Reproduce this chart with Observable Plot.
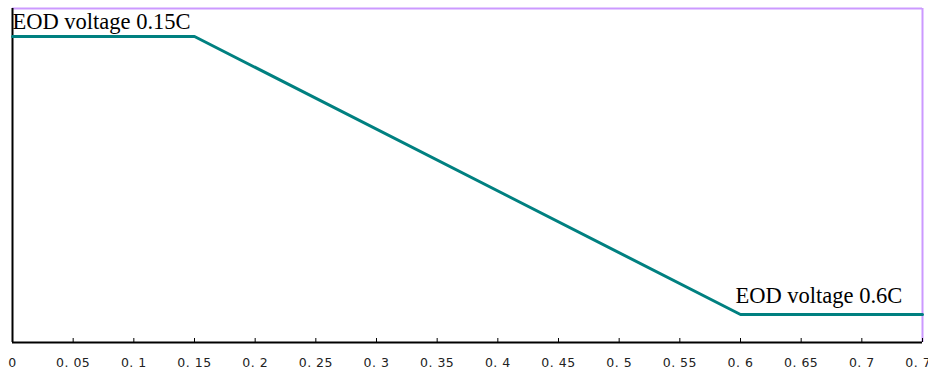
<!DOCTYPE html>
<html>
<head>
<meta charset="utf-8">
<script src="https://cdn.jsdelivr.net/npm/d3@7"></script>
<script src="https://cdn.jsdelivr.net/npm/@observablehq/plot@0.6"></script>
<style>
  html, body { margin: 0; padding: 0; background: #fff; }
  #chart { width: 928px; height: 369px; overflow: hidden; }
  #chart g[aria-label="x-axis tick label"] text { letter-spacing: 0.5px; }
</style>
</head>
<body>
<div id="chart"></div>
<script>
// Discharge rate (C) vs EOD voltage (relative, no y labels shown)
const rates = [0, 0.15, 0.6, 0.75];
const eodVoltage = [1, 1, 0, 0];
const tickValues = [0, 0.05, 0.1, 0.15, 0.2, 0.25, 0.3, 0.35, 0.4, 0.45, 0.5, 0.55, 0.6, 0.65, 0.7, 0.75];
const tickLabels = ["0", "0. 05", "0. 1", "0. 15", "0. 2", "0. 25", "0. 3", "0. 35", "0. 4", "0. 45", "0. 5", "0. 55", "0. 6", "0. 65", "0. 7", "0. 75"];
const annotations = [
  {x: 0, y: 1, text: "EOD voltage 0.15C"},
  {x: 0.6, y: 0, text: "EOD voltage 0.6C"}
];

const yDomain = [-0.1007, 1.1007];
const xDomain = [0, 0.75];
const points = rates.map((r, i) => ({x: r, y: eodVoltage[i]}));

const chart = Plot.plot({
  width: 928,
  height: 369,
  marginLeft: 12,
  marginRight: 6,
  marginTop: 8,
  marginBottom: 27,
  style: {background: "#fff", overflow: "visible"},
  x: {domain: xDomain, axis: null},
  y: {domain: yDomain, axis: null},
  marks: [
    Plot.ruleY([yDomain[1]], {stroke: "#cc99ff", strokeWidth: 2}),
    Plot.ruleX([xDomain[1]], {stroke: "#cc99ff", strokeWidth: 2}),
    Plot.ruleX([xDomain[0]], {stroke: "#000", strokeWidth: 2}),
    Plot.ruleY([yDomain[0]], {stroke: "#000", strokeWidth: 2}),
    Plot.axisX(tickValues, {
      anchor: "bottom",
      tickSize: -4,
      tickPadding: 19.5,
      stroke: "#000",
      tickFormat: (d, i) => tickLabels[i],
      fontSize: 12.5,
      fontFamily: "DejaVu Sans",
      fill: "#222",
      label: null
    }),
    Plot.line(points, {x: "x", y: "y", stroke: "#008080", strokeWidth: 3}),
    Plot.text(annotations.slice(0, 1), {x: "x", y: "y", text: "text", textAnchor: "start", lineAnchor: "bottom", dy: -7, dx: 0, fontSize: 22.5, fontFamily: "Liberation Serif", fill: "#000"}),
    Plot.text(annotations.slice(1), {x: "x", y: "y", text: "text", textAnchor: "start", lineAnchor: "bottom", dy: -12, dx: -5, fontSize: 22.5, fontFamily: "Liberation Serif", fill: "#000"})
  ]
});
document.getElementById("chart").appendChild(chart);
</script>
</body>
</html>
